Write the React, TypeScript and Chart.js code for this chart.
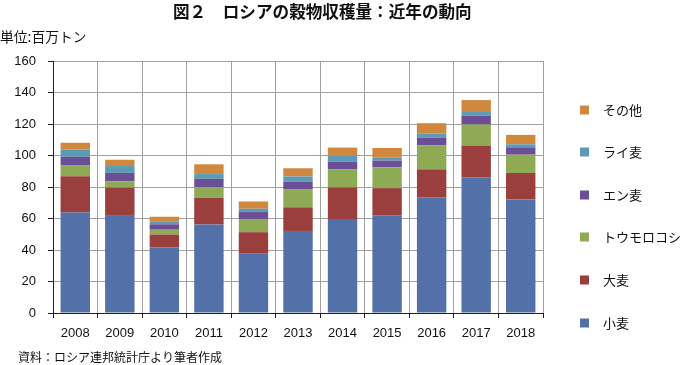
import React, { useEffect, useRef } from "react";
import { Chart, registerables } from "chart.js";

Chart.register(...registerables);

const years = ["2008", "2009", "2010", "2011", "2012", "2013", "2014", "2015", "2016", "2017", "2018"];
const wheat = [63.8, 61.7, 41.5, 56.2, 37.7, 52.1, 59.7, 61.8, 73.3, 86.0, 72.1];
const barley = [23.1, 17.9, 8.3, 16.9, 13.6, 15.0, 20.0, 17.5, 17.9, 20.4, 16.8];
const corn = [6.7, 4.0, 3.1, 6.8, 8.4, 11.6, 11.6, 13.2, 15.2, 13.3, 11.6];
const oats = [5.6, 5.4, 3.4, 5.3, 4.4, 4.6, 4.8, 4.3, 5.0, 5.6, 4.7];
const rye = [4.5, 4.3, 1.6, 3.0, 2.1, 3.4, 3.6, 2.0, 2.5, 2.3, 1.9];
const others = [4.4, 4.0, 3.2, 6.2, 4.6, 5.2, 5.3, 6.0, 6.6, 7.6, 6.0];

const seriesNames = ["小麦", "大麦", "トウモロコシ", "エン麦", "ライ麦", "その他"];
const seriesColors = ["#5470A8", "#9A3E3E", "#8FAA55", "#6B4F96", "#5B9BB5", "#D0883F"];
const yTicks = [0, 20, 40, 60, 80, 100, 120, 140, 160];

const titleText = "図２　ロシアの穀物収穫量：近年の動向";
const unitText = "単位:百万トン";
const sourceText = "資料：ロシア連邦統計庁より筆者作成";

const FONT = '"Liberation Sans", "Noto Sans CJK JP", sans-serif';
const JFONT = '"Noto Sans CJK JP", "Liberation Sans", sans-serif';

export default function App() {
  const ref = useRef<HTMLCanvasElement | null>(null);

  useEffect(() => {
    if (!ref.current) return;
    const seriesData = [wheat, barley, corn, oats, rye, others];
    const decorPlugin = {
      id: "decor",
      afterDraw(chart: any) {
        const ctx = chart.ctx;
        ctx.save();
        ctx.fillStyle = "#111";
        ctx.textBaseline = "middle";
        ctx.textAlign = "left";
        ctx.font = `bold 16.6px ${JFONT}`;
        ctx.fillText(titleText, 173, 12);
        ctx.font = `13.8px ${JFONT}`;
        ctx.fillText(unitText, 0, 37);
        ctx.font = `12px ${JFONT}`;
        ctx.fillText(sourceText, 18, 357);
        // legend (reverse order)
        const ys = [110, 152, 195, 237, 280, 323];
        ctx.font = `13px ${JFONT}`;
        for (let i = 0; i < seriesNames.length; i++) {
          const idx = seriesNames.length - 1 - i;
          ctx.fillStyle = seriesColors[idx];
          ctx.fillRect(580, ys[i] - 4.5, 9, 9);
          ctx.fillStyle = "#111";
          ctx.fillText(seriesNames[idx], 603, ys[i]);
        }
        ctx.restore();
      },
    };

    const chart = new Chart(ref.current, {
      type: "bar",
      data: {
        labels: years,
        datasets: seriesData.map((d, i) => ({
          label: seriesNames[i],
          data: d,
          backgroundColor: seriesColors[i],
          borderWidth: 0,
          barPercentage: 0.66,
          categoryPercentage: 1,
        })),
      },
      options: {
        animation: false,
        responsive: false,
        layout: { padding: { left: 0, top: 61, right: 140, bottom: 22 } },
        plugins: {
          legend: { display: false },
          title: { display: false },
          tooltip: { enabled: false },
        },
        scales: {
          x: {
            stacked: true,
            grid: {
              offset: true,
              color: "#A0A0A0",
              tickColor: "#222",
              tickLength: 5,
              lineWidth: 1,
            },
            border: { color: "#222", width: 1 },
            ticks: {
              color: "#111",
              font: { family: FONT, size: 13 },
              padding: 8,
              maxRotation: 0,
            },
            afterFit: (axis: any) => {
              axis.height = 30;
            },
          },
          y: {
            stacked: true,
            min: 0,
            max: 160,
            afterBuildTicks: (axis: any) => {
              axis.ticks = yTicks.map((v) => ({ value: v }));
            },
            grid: {
              color: "#A0A0A0",
              tickColor: "#222",
              tickLength: 5,
            },
            border: { color: "#222", width: 1 },
            ticks: {
              color: "#111",
              font: { family: FONT, size: 13 },
              padding: 12,
            },
            afterFit: (axis: any) => {
              axis.width = 53;
            },
          },
        },
      },
      plugins: [decorPlugin],
    });
    return () => chart.destroy();
  }, []);

  return (
    <div style={{ position: "fixed", left: 0, top: 0, width: 683, height: 365, background: "#fff" }}>
      <canvas ref={ref} width={683} height={365} style={{ width: 683, height: 365, display: "block" }} />
    </div>
  );
}
